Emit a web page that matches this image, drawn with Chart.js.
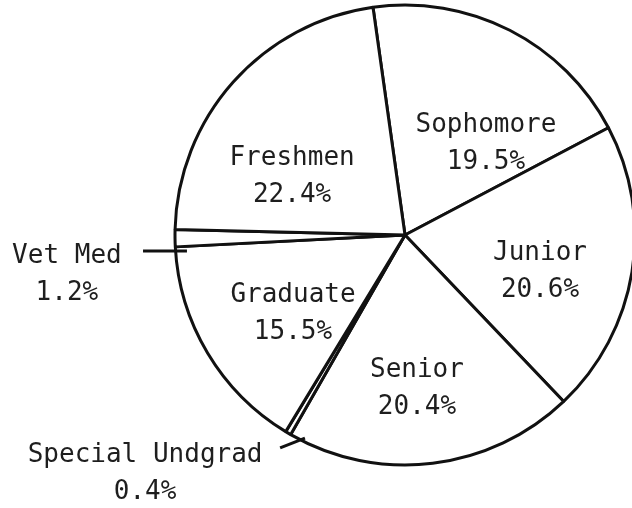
<!DOCTYPE html>
<html>
<head>
<meta charset="utf-8">
<script src="https://cdn.jsdelivr.net/npm/chart.js@4/dist/chart.umd.min.js"></script>
<style>
  html, body { margin: 0; padding: 0; background: #fff; overflow: hidden; width: 632px; height: 508px; }
  #wrap { position: absolute; left: 0; top: 0; }
</style>
</head>
<body>
<div id="wrap"><canvas id="c" width="810" height="508"></canvas></div>
<script>
// ---- data ----
const categories = ["Sophomore", "Junior", "Senior", "Special Undgrad", "Graduate", "Vet Med", "Freshmen"];
const percents   = [19.5, 20.6, 20.4, 0.4, 15.5, 1.2, 22.4];
const percentLabels = percents.map(v => v.toFixed(1) + "%");

// ---- label layout (offsets of first baseline from pie centre, in units of outer radius) ----
const labelLayout = {
  "Sophomore":       { dx:  0.352, dy: -0.448 },
  "Junior":          { dx:  0.587, dy:  0.109 },
  "Senior":          { dx:  0.052, dy:  0.617 },
  "Special Undgrad": { dx: -1.130, dy:  0.987, leader: [[-0.543, 0.926], [-0.435, 0.883]] },
  "Graduate":        { dx: -0.487, dy:  0.291 },
  "Vet Med":         { dx: -1.470, dy:  0.122, leader: [[-1.139, 0.070], [-0.948, 0.070]] },
  "Freshmen":        { dx: -0.491, dy: -0.304 }
};

const labelPlugin = {
  id: 'pieLabels',
  afterDatasetsDraw(chart) {
    const ctx = chart.ctx;
    const meta = chart.getDatasetMeta(0);
    ctx.save();
    ctx.font = '26px "DejaVu Sans Mono", monospace';
    ctx.fillStyle = '#1e1e1e';
    ctx.textAlign = 'center';
    ctx.textBaseline = 'alphabetic';
    meta.data.forEach((arc, i) => {
      const name = categories[i];
      const lay = labelLayout[name];
      const R = arc.outerRadius;
      const x = arc.x + lay.dx * R;
      const y = arc.y + lay.dy * R;
      ctx.fillText(name, x, y);
      ctx.fillText(percentLabels[i], x, y + 37);
      if (lay.leader) {
        ctx.beginPath();
        ctx.strokeStyle = '#111';
        ctx.lineWidth = 3;
        ctx.moveTo(arc.x + lay.leader[0][0] * R, arc.y + lay.leader[0][1] * R);
        ctx.lineTo(arc.x + lay.leader[1][0] * R, arc.y + lay.leader[1][1] * R);
        ctx.stroke();
      }
    });
    ctx.restore();
  }
};

new Chart(document.getElementById('c'), {
  type: 'pie',
  data: {
    labels: categories,
    datasets: [{
      data: percents,
      backgroundColor: '#ffffff',
      borderColor: '#111111',
      borderWidth: 3,
      radius: 230
    }]
  },
  options: {
    responsive: false,
    animation: false,
    rotation: -8,
    layout: { padding: { top: 0, left: 0, right: 0, bottom: 38 } },
    plugins: {
      legend: { display: false },
      tooltip: { enabled: false },
      title: { display: false }
    }
  },
  plugins: [labelPlugin]
});
</script>
</body>
</html>
